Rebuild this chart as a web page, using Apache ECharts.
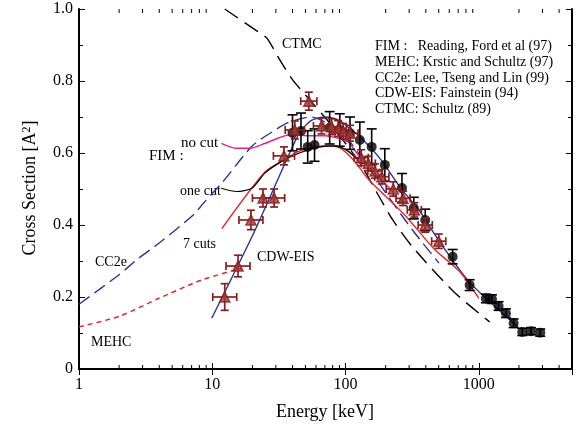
<!DOCTYPE html>
<html><head><meta charset="utf-8">
<script src="https://cdn.jsdelivr.net/npm/echarts/dist/echarts.min.js"></script>
<style>html,body{margin:0;padding:0;background:#fff}#c{width:577px;height:429px}</style>
</head><body><div id="c"></div>
<script>
const FONT = '"Liberation Serif", "Times New Roman", serif';

// axis ticks
const xMajorTicks = [1, 10, 100, 1000];
const xMinorTicks = [2,3,4,5,6,7,8,9,20,30,40,50,60,70,80,90,200,300,400,500,600,700,800,900,2000,3000,4000];
const yTickLabels = ['0', '0.2', '0.4', '0.6', '0.8', '1.0'];

// experiment A (triangles, x and y error bars)
const triX = [12.4, 15.6, 19.5, 24.0, 29.1, 34.5, 41.6, 53, 66, 78.6, 88, 96, 108, 131, 148, 166, 187, 228, 270, 328, 396, 500];
const triY = [0.20, 0.286, 0.414, 0.475, 0.475, 0.592, 0.664, 0.744, 0.675, 0.673, 0.668, 0.66, 0.655, 0.587, 0.571, 0.55, 0.534, 0.50, 0.474, 0.442, 0.40, 0.355];
const triYErr = [0.037, 0.03, 0.027, 0.025, 0.025, 0.025, 0.025, 0.025, 0.022, 0.022, 0.022, 0.022, 0.022, 0.022, 0.02, 0.02, 0.02, 0.02, 0.02, 0.02, 0.02, 0.02];
const triXFactor = [1.23, 1.23, 1.23, 1.2, 1.2, 1.2, 1.18, 1.15, 1.15, 1.15, 1.15, 1.15, 1.15, 1.13, 1.13, 1.13, 1.13, 1.13, 1.13, 1.13, 1.13, 1.13];

// experiment B (black circles, y error bars)
const dotX = [40, 46.3, 52, 58.5, 76, 90.5, 108, 128, 157, 197, 265, 325, 396, 636, 853, 1130, 1254, 1406, 1597, 1824, 2117, 2461, 2890];
const dotY = [0.656, 0.661, 0.617, 0.622, 0.67, 0.664, 0.655, 0.636, 0.617, 0.567, 0.503, 0.447, 0.414, 0.312, 0.233, 0.196, 0.194, 0.175, 0.155, 0.127, 0.103, 0.105, 0.101];
const dotYErr = [0.05, 0.05, 0.045, 0.045, 0.045, 0.045, 0.045, 0.05, 0.05, 0.045, 0.04, 0.03, 0.03, 0.02, 0.015, 0.012, 0.012, 0.012, 0.012, 0.012, 0.01, 0.01, 0.01];

// theory curves
const ctmcX = [12.4, 22.8, 25.7, 32.2, 40.1, 54, 76.5, 128, 181, 226, 318, 651, 1205];
const ctmcY = [1.0, 0.933, 0.919, 0.858, 0.803, 0.747, 0.682, 0.572, 0.475, 0.414, 0.339, 0.214, 0.131];

const cdwX = [9.9, 20, 36, 45, 55, 70, 90, 110, 128, 181, 255, 362, 510, 857, 1963];
const cdwY = [0.141, 0.37, 0.58, 0.655, 0.69, 0.70, 0.69, 0.665, 0.645, 0.585, 0.506, 0.437, 0.352, 0.24, 0.117];

const cc2eX = [1, 2, 2.7, 4, 7.2, 8.56, 12, 20, 30, 38, 55, 75, 100, 140, 197, 318, 502];
const cc2eY = [0.18, 0.262, 0.303, 0.35, 0.428, 0.46, 0.52, 0.62, 0.665, 0.686, 0.70, 0.68, 0.645, 0.575, 0.493, 0.386, 0.294];

const mehcX = [1, 2.03, 3.9, 8.3, 16.6];
const mehcY = [0.117, 0.147, 0.195, 0.247, 0.28];

const cut7X = [11.8, 24.8, 34, 45, 60, 72, 90, 115, 150, 278, 458, 720, 1000];
const cut7Y = [0.39, 0.547, 0.58, 0.605, 0.617, 0.62, 0.615, 0.58, 0.525, 0.428, 0.335, 0.27, 0.196];

const nocutX = [11.7, 15.2, 19.2, 25, 38, 55, 70, 90, 105, 130, 160, 230];
const nocutY = [0.627, 0.613, 0.613, 0.627, 0.65, 0.648, 0.648, 0.64, 0.63, 0.585, 0.55, 0.49];

const onecutX = [11.7, 15.2, 19.8, 24.8, 33, 45, 60, 80, 100, 120];
const onecutY = [0.502, 0.493, 0.502, 0.544, 0.576, 0.6, 0.615, 0.62, 0.61, 0.585];

const zip = (xs, ys) => xs.map((x, i) => [x, ys[i]]);

const TRI = '#852020';
const BLUE = '#2a32a0';
const RED = '#e8262a';
const PINK = '#e6208c';

function lineSeries(name, xs, ys, color, type, width) {
  return {
    name, type: 'line', data: zip(xs, ys), showSymbol: false, smooth: 0.25,
    lineStyle: { color, width: width || 1.4, type: type || 'solid' }, z: 2, silent: true
  };
}

const chart = echarts.init(document.getElementById('c'), null, { renderer: 'canvas' });

const axisCommon = {
  axisLine: { show: true, lineStyle: { color: '#000', width: 2 } },
  splitLine: { show: false }
};

chart.setOption({
  animation: false,
  backgroundColor: '#fff',
  grid: { left: 79, right: 5, top: 9, bottom: 60, containLabel: false },
  xAxis: [
    Object.assign({
      type: 'log', logBase: 10, min: 1, max: 5000, position: 'bottom',
      axisTick: { show: true, inside: true, length: 6, lineStyle: { color: '#000', width: 1 } },
      axisLabel: {
        show: true, margin: 8, fontFamily: FONT, fontSize: 16, color: '#000', showMaxLabel: false,
        formatter: v => (xMajorTicks.indexOf(Math.round(v)) >= 0 && Math.abs(v - Math.round(v)) < 1e-6) ? String(Math.round(v)) : ''
      }
    }, axisCommon),
    Object.assign({
      type: 'log', logBase: 10, min: 1, max: 5000, position: 'top',
      axisTick: { show: true, inside: true, length: 6, lineStyle: { color: '#000', width: 1 } },
      axisLabel: { show: false }
    }, axisCommon)
  ],
  yAxis: [
    Object.assign({
      type: 'value', min: 0, max: 1, interval: 0.2, position: 'left',
      axisTick: { show: true, inside: true, length: 6, lineStyle: { color: '#000', width: 1 } },
      minorTick: { show: true, splitNumber: 2, length: 4, lineStyle: { color: '#000', width: 1 } },
      axisLabel: {
        margin: 6, fontFamily: FONT, fontSize: 16, color: '#000',
        formatter: v => yTickLabels[Math.round(v * 5)]
      }
    }, axisCommon),
    Object.assign({
      type: 'value', min: 0, max: 1, interval: 0.2, position: 'right',
      axisTick: { show: true, inside: true, length: 6, lineStyle: { color: '#000', width: 1 } },
      minorTick: { show: true, splitNumber: 2, length: 4, lineStyle: { color: '#000', width: 1 } },
      axisLabel: { show: false }
    }, axisCommon)
  ],
  series: [
    // minor log ticks on bottom and top
    {
      type: 'custom', silent: true, z: 5,
      data: xMinorTicks.map(v => [v, 0]),
      encode: { x: 0, y: 1 },
      renderItem: (params, api) => {
        const v = api.value(0);
        const b = api.coord([v, 0]);
        const t = api.coord([v, 1]);
        const st = { stroke: '#000', lineWidth: 1 };
        return { type: 'group', children: [
          { type: 'line', shape: { x1: b[0], y1: b[1], x2: b[0], y2: b[1] - 4 }, style: st },
          { type: 'line', shape: { x1: t[0], y1: t[1], x2: t[0], y2: t[1] + 4 }, style: st }
        ] };
      }
    },
    lineSeries('CTMC', ctmcX, ctmcY, '#000', [16, 8], 1.4),
    lineSeries('CDW-EIS', cdwX, cdwY, BLUE, 'solid', 1.4),
    lineSeries('CC2e', cc2eX, cc2eY, BLUE, [13, 6], 1.4),
    lineSeries('MEHC', mehcX, mehcY, RED, [5, 4], 1.5),
    lineSeries('7 cuts', cut7X, cut7Y, RED, 'solid', 1.4),
    lineSeries('no cut', nocutX, nocutY, PINK, 'solid', 1.4),
    lineSeries('one cut', onecutX, onecutY, '#000', 'solid', 1.2),
    // black circles error bars
    {
      type: 'custom', silent: true, z: 3,
      data: dotX.map((x, i) => [x, dotY[i], dotY[i] - dotYErr[i], dotY[i] + dotYErr[i]]),
      encode: { x: 0, y: 1 },
      renderItem: (params, api) => {
        const x = api.value(0);
        const lo = api.coord([x, api.value(2)]), hi = api.coord([x, api.value(3)]);
        const st = { stroke: '#000', lineWidth: 1.6 };
        const cap = 5;
        return { type: 'group', children: [
          { type: 'line', shape: { x1: lo[0], y1: lo[1], x2: hi[0], y2: hi[1] }, style: st },
          { type: 'line', shape: { x1: lo[0] - cap, y1: lo[1], x2: lo[0] + cap, y2: lo[1] }, style: st },
          { type: 'line', shape: { x1: hi[0] - cap, y1: hi[1], x2: hi[0] + cap, y2: hi[1] }, style: st }
        ] };
      }
    },
    {
      type: 'scatter', data: zip(dotX, dotY), symbol: 'circle', symbolSize: 10, z: 4, silent: true,
      itemStyle: { color: '#000' }
    },
    // triangles error bars
    {
      type: 'custom', silent: true, z: 5,
      data: triX.map((x, i) => [x, triY[i], x / triXFactor[i], x * triXFactor[i], triY[i] - triYErr[i], triY[i] + triYErr[i]]),
      encode: { x: 0, y: 1 },
      renderItem: (params, api) => {
        const x = api.value(0), y = api.value(1);
        const c = api.coord([x, y]);
        const l = api.coord([api.value(2), y]), r = api.coord([api.value(3), y]);
        const b = api.coord([x, api.value(4)]), t = api.coord([x, api.value(5)]);
        const st = { stroke: TRI, lineWidth: 1.7 };
        const cap = 4;
        return { type: 'group', children: [
          { type: 'line', shape: { x1: l[0], y1: c[1], x2: r[0], y2: c[1] }, style: st },
          { type: 'line', shape: { x1: l[0], y1: c[1] - cap, x2: l[0], y2: c[1] + cap }, style: st },
          { type: 'line', shape: { x1: r[0], y1: c[1] - cap, x2: r[0], y2: c[1] + cap }, style: st },
          { type: 'line', shape: { x1: c[0], y1: b[1], x2: c[0], y2: t[1] }, style: st },
          { type: 'line', shape: { x1: c[0] - cap, y1: b[1], x2: c[0] + cap, y2: b[1] }, style: st },
          { type: 'line', shape: { x1: c[0] - cap, y1: t[1], x2: c[0] + cap, y2: t[1] }, style: st }
        ] };
      }
    },
    {
      type: 'scatter', data: zip(triX, triY), symbol: 'triangle', symbolSize: 10, z: 6, silent: true,
      itemStyle: { color: '#a23a36', borderColor: TRI, borderWidth: 1.6 }
    }
  ],
  graphic: [
    { type: 'text', x: 30, y: 188, rotation: Math.PI / 2, silent: true,
      style: { text: '{a|Cross Section [A}{s|2}{a|]}', align: 'center', verticalAlign: 'middle',
        rich: { a: { fontFamily: FONT, fontSize: 18, fill: '#000' }, s: { fontFamily: FONT, fontSize: 12, fill: '#000', verticalAlign: 'top' } } } },
    { type: 'text', x: 325, y: 412, silent: true,
      style: { text: 'Energy [keV]', fontFamily: FONT, fontSize: 18, fill: '#000', align: 'center', verticalAlign: 'middle' } },
    { type: 'text', x: 282, y: 44, silent: true, style: { text: 'CTMC', fontFamily: FONT, fontSize: 14, fill: '#000', verticalAlign: 'middle' } },
    { type: 'text', x: 181, y: 143, silent: true, style: { text: 'no cut', fontFamily: FONT, fontSize: 15, fill: '#000', verticalAlign: 'middle' } },
    { type: 'text', x: 149, y: 156, silent: true, style: { text: 'FIM :', fontFamily: FONT, fontSize: 15, fill: '#000', verticalAlign: 'middle' } },
    { type: 'text', x: 180, y: 191, silent: true, style: { text: 'one cut', fontFamily: FONT, fontSize: 14, fill: '#000', verticalAlign: 'middle' } },
    { type: 'text', x: 183, y: 244, silent: true, style: { text: '7 cuts', fontFamily: FONT, fontSize: 14, fill: '#000', verticalAlign: 'middle' } },
    { type: 'text', x: 95, y: 262, silent: true, style: { text: 'CC2e', fontFamily: FONT, fontSize: 14, fill: '#000', verticalAlign: 'middle' } },
    { type: 'text', x: 91, y: 342, silent: true, style: { text: 'MEHC', fontFamily: FONT, fontSize: 14, fill: '#000', verticalAlign: 'middle' } },
    { type: 'text', x: 257, y: 257, silent: true, style: { text: 'CDW-EIS', fontFamily: FONT, fontSize: 14, fill: '#000', verticalAlign: 'middle' } },
    { type: 'text', x: 375, y: 46, silent: true, style: { text: 'FIM :   Reading, Ford et al (97)', fontFamily: FONT, fontSize: 14, fill: '#000', verticalAlign: 'middle' } },
    { type: 'text', x: 375, y: 62, silent: true, style: { text: 'MEHC: Krstic and Schultz (97)', fontFamily: FONT, fontSize: 14, fill: '#000', verticalAlign: 'middle' } },
    { type: 'text', x: 375, y: 78, silent: true, style: { text: 'CC2e: Lee, Tseng and Lin (99)', fontFamily: FONT, fontSize: 14, fill: '#000', verticalAlign: 'middle' } },
    { type: 'text', x: 375, y: 93, silent: true, style: { text: 'CDW-EIS: Fainstein (94)', fontFamily: FONT, fontSize: 14, fill: '#000', verticalAlign: 'middle' } },
    { type: 'text', x: 375, y: 109, silent: true, style: { text: 'CTMC: Schultz (89)', fontFamily: FONT, fontSize: 14, fill: '#000', verticalAlign: 'middle' } }
  ]
});
</script>
</body></html>
